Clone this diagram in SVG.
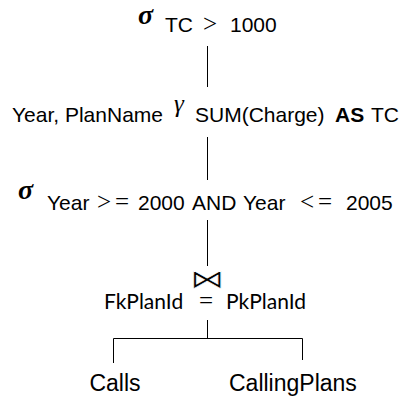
<svg xmlns="http://www.w3.org/2000/svg" width="404" height="400" viewBox="0 0 404 400">
<style>
.t{font-family:"Liberation Sans",Arial,sans-serif;font-size:21px;fill:#000}
.b{font-weight:bold}
.m{font-family:"Liberation Serif","Times New Roman",serif;font-size:25px;fill:#000}
.sig{font-family:"Liberation Serif","Times New Roman",serif;font-size:28px;font-weight:bold;font-style:italic;fill:#000}
.gam{font-family:"Liberation Serif","Times New Roman",serif;font-size:25px;font-style:italic;fill:#000}
.j{font-family:"Lato","Open Sans",sans-serif;font-size:21px;fill:#000}
.lf{font-family:"Liberation Sans",Arial,sans-serif;font-size:23px;fill:#000}
.bt{font-family:"DejaVu Sans",sans-serif;font-size:22px;fill:#000;stroke:#fff;stroke-width:0.45}
.ln{stroke:#000;stroke-width:1;fill:none}
</style>
<rect width="404" height="400" fill="#fff"/>
<g id="connectors">
<line class="ln" x1="207.5" y1="46" x2="207.5" y2="87"/>
<line class="ln" x1="207.5" y1="137" x2="207.5" y2="180"/>
<line class="ln" x1="207.5" y1="220" x2="207.5" y2="266"/>
<polyline class="ln" points="207.5,320 207.5,338"/>
<polyline class="ln" points="113.5,363 113.5,338.5 302.5,338.5 302.5,360"/>
</g>
<g id="select1">
<text class="sig" x="138" y="24">σ</text>
<text class="t" x="165" y="32">TC</text>
<text class="m" x="203" y="32">&gt;</text>
<text class="t" x="230" y="32">1000</text>
</g>
<g id="group">
<text class="t" x="12" y="122">Year, PlanName</text>
<text class="gam" x="174" y="112">γ</text>
<text class="t" x="195" y="122">SUM(Charge)</text>
<text class="t b" x="335" y="122">AS</text>
<text class="t" x="371" y="122">TC</text>
</g>
<g id="select2">
<text class="sig" x="18" y="199">σ</text>
<text class="t" x="47" y="210">Year</text>
<text class="m" x="97" y="210">&gt;</text>
<text class="m" x="115" y="210">=</text>
<text class="t" x="138" y="210">2000</text>
<text class="t" x="192" y="210">AND</text>
<text class="t" x="243" y="210">Year</text>
<text class="m" x="300" y="210">&lt;</text>
<text class="m" x="318" y="210">=</text>
<text class="t" x="346" y="210">2005</text>
</g>
<g id="join">
<text class="bt" transform="translate(207,288) scale(1.55,1.2)" text-anchor="middle">⋈</text>
<text class="j" x="104" y="309">FkPlanId</text>
<text class="m" x="199" y="309">=</text>
<text class="j" x="226" y="309">PkPlanId</text>
</g>
<g id="calls">
<text class="lf" x="115" y="391" text-anchor="middle">Calls</text>
</g>
<g id="callingplans">
<text class="lf" x="229" y="391">CallingPlans</text>
</g>
</svg>
